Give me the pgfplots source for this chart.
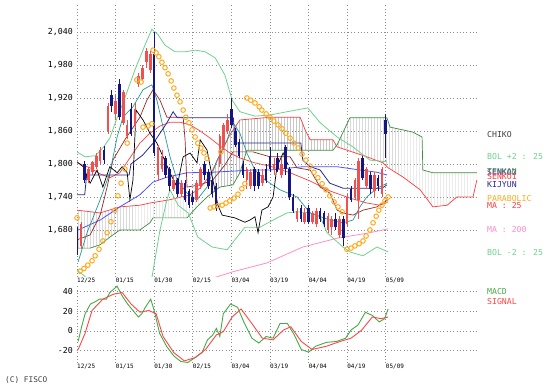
\documentclass[border=0pt]{standalone}
\usepackage{pgfplots}
\pgfplotsset{compat=1.18}
\usetikzlibrary{patterns}
\usepackage{fontspec}
\setmainfont{DejaVu Sans}
\newfontfamily\mono{DejaVu Sans Mono}
\definecolor{bbgreen}{RGB}{110,210,140}
\definecolor{upred}{RGB}{240,80,80}
\definecolor{dnnavy}{RGB}{20,20,130}
\definecolor{ma25}{RGB}{255,60,60}
\definecolor{ma200}{RGB}{255,140,200}
\definecolor{ma75}{RGB}{80,80,255}
\definecolor{kijun}{RGB}{40,40,150}
\definecolor{sen1}{RGB}{255,60,60}
\definecolor{sen2}{RGB}{60,140,60}
\definecolor{tenkan}{RGB}{40,150,150}
\definecolor{brownl}{RGB}{150,40,40}
\definecolor{sar}{RGB}{255,170,30}
\definecolor{macdg}{RGB}{70,170,70}
\definecolor{sigr}{RGB}{255,70,70}
\definecolor{gridc}{RGB}{140,140,140}
\newcommand\fy{\mono\fontsize{8.3}{9}\selectfont}
\newcommand\fx{\mono\fontsize{6}{6}\selectfont}
\newcommand\fl{\mono\fontsize{8.2}{9}\selectfont}
\pgfplotsset{
  panel/.style={
    scale only axis, width=400bp, xmin=0, xmax=103.63,
    axis line style={draw=none}, tick style={draw=none},
    grid=major, grid style={gridc, line width=0.6bp, dash pattern=on 0.7bp off 2.6bp},
    xtick={0,10,20,30,40,50,60,70,80},
    xticklabels={12/25,01/15,01/30,02/15,03/04,03/19,04/04,04/19,05/09},
    xticklabel style={font=\fx, anchor=north west, inner sep=0pt, yshift=-1bp},
    yticklabel style={font=\fy, anchor=east, inner sep=0pt, xshift=-4bp,
      /pgf/number format/1000 sep={,}, /pgf/number format/assume math mode=true},
  },
}
\begin{document}
\begin{tikzpicture}
\begin{axis}[panel, at={(77bp,109.3bp)}, anchor=south west, height=271.7bp,
  ymin=1595, ymax=2089.1, ytick={1680,1740,1800,1860,1920,1980,2040}]
% Ichimoku cloud (senkou span 1 forward, senkou span 2 backward)
\addplot[draw=none, pattern=vertical lines, pattern color=gray!45] coordinates {(0,1716) (6,1711) (11.1,1722) (16.3,1725) (18.9,1729) (24.1,1735) (29.3,1744) (31.9,1756) (34.5,1780) (37,1816) (39.6,1853) (42.2,1880) (50,1885) (57.8,1885) (59.1,1862) (60.4,1844) (66.3,1844) (67.4,1831) (70,1825) (75.1,1813) (79.3,1802) (80.6,1793) (84.5,1776) (88.9,1753) (92.2,1722) (95.9,1725) (98.4,1740) (102.6,1740) (103.6,1771)
(103.6,1784) (92.2,1784) (89.6,1789) (89.4,1849) (87,1858) (81.1,1867) (80.3,1884) (70.7,1884) (67.4,1835) (66.3,1825) (44,1825) (42.2,1784) (40.4,1762) (37,1758) (33.7,1740) (31.1,1722) (28.5,1702) (19.7,1702) (18.9,1693) (16.3,1680) (11.1,1680) (8.5,1667) (6,1653) (3.4,1647) (0,1647)};
\addplot[sen1, line width=0.7bp] coordinates {(0,1716) (6,1711) (11.1,1722) (16.3,1725) (18.9,1729) (24.1,1735) (29.3,1744) (31.9,1756) (34.5,1780) (37,1816) (39.6,1853) (42.2,1880) (50,1885) (57.8,1885) (59.1,1862) (60.4,1844) (66.3,1844) (67.4,1831) (70,1825) (75.1,1813) (79.3,1802) (80.6,1793) (84.5,1776) (88.9,1753) (92.2,1722) (95.9,1725) (98.4,1740) (102.6,1740) (103.6,1771)};
\addplot[sen2, line width=0.7bp] coordinates {(0,1647) (3.4,1647) (6,1653) (8.5,1667) (11.1,1680) (16.3,1680) (18.9,1693) (19.7,1702) (28.5,1702) (31.1,1722) (33.7,1740) (37,1758) (40.4,1762) (42.2,1784) (44,1825) (66.3,1825) (67.4,1835) (70.7,1884) (80.3,1884) (81.1,1867) (87,1858) (89.4,1849) (89.6,1789) (92.2,1784) (103.6,1784)};
% MA200
\addplot[ma200, line width=0.8bp] coordinates {(31.9,1584) (33.7,1589) (40.4,1604) (49.2,1620) (58.5,1649) (67.4,1665) (75.9,1675) (80.6,1682)};
% Bollinger bands
\addplot[bbgreen, line width=0.8bp] coordinates {(0,1822) (2.1,1813) (4.7,1815) (6.7,1829) (8.5,1847) (10.4,1884) (12.4,1920) (15,1971) (17.6,2016) (19.4,2045) (21,2035) (22.8,2016) (25.4,2004) (28,2004) (30.6,2007) (33.2,2004) (35.8,1993) (38.3,1962) (40.2,1916) (42.2,1895) (46.1,1887) (50,1889) (54.4,1895) (59.8,1902) (63,1875) (67.4,1849) (71.5,1831) (75.9,1807) (80.3,1804)};
\addplot[bbgreen, line width=0.8bp] coordinates {(0,1607) (2,1596) (4.7,1571) (11,1553) (17.6,1562) (19.4,1593) (21.5,1680) (23.3,1735) (24.1,1753) (26.2,1725) (28.8,1711) (31.3,1667) (35,1649) (38.9,1644) (40.9,1662) (43.5,1685) (47.4,1685) (50.8,1698) (54.4,1711) (57,1713) (60.4,1711) (63,1704) (64.8,1675) (68.9,1649) (70.7,1640) (74.1,1633) (77.7,1649) (80.6,1640)};
% blue smooth MA
\addplot[ma75, line width=0.8bp] coordinates {(0.3,1680) (6,1698) (11.1,1722) (16.3,1744) (19.7,1767) (23.3,1776) (28.5,1784) (35.2,1785) (40.4,1787) (45.6,1789) (50,1789) (58.5,1795) (67.4,1795) (73.3,1789) (77.7,1785) (80.3,1780)};
% MA25
\addplot[ma25, line width=0.7bp] coordinates {(0,1802) (3.4,1793) (6,1782) (8.5,1775) (11.1,1784) (13.7,1811) (16.3,1838) (18.9,1856) (21.5,1869) (24.1,1876) (26.7,1876) (29.3,1871) (31.9,1860) (34.5,1847) (37,1833) (39.6,1820) (42.2,1811) (46.1,1802) (50,1796) (55.2,1784) (60.4,1769) (65.5,1751) (70.7,1738) (75.1,1729) (78.5,1725) (80.6,1731)};
% brown line
\addplot[brownl, line width=0.7bp] coordinates {(0,1662) (3.4,1671) (6,1707) (7.8,1758) (9.3,1807) (12.4,1844) (16.3,1885) (18.1,1916) (19.7,1935) (21.5,1916) (23.3,1885) (27.5,1885) (28,1844) (28.5,1758) (31.9,1762) (35.2,1771) (38.3,1798) (40.4,1822) (45.6,1822) (50,1813) (55.2,1813) (57,1793) (60.4,1789) (63,1758) (65.5,1747) (67.4,1716) (68.9,1711) (71.5,1707) (74.1,1716) (77.7,1722) (80.6,1735)};
% Tenkan
\addplot[tenkan, line width=0.7bp] coordinates {(0.3,1622) (2.6,1675) (6,1735) (8.5,1784) (10.4,1849) (11.9,1885) (14.5,1904) (17.1,1935) (19.4,1944) (20.7,1916) (22.3,1867) (24.1,1813) (25.9,1771) (28.5,1747) (31.1,1735) (33.7,1758) (36.3,1807) (38.9,1844) (40.4,1875) (42.2,1856) (44,1820) (46.1,1789) (48.7,1771) (52.6,1753) (57,1740) (60.4,1711) (65.5,1698) (68.9,1693) (71.5,1698) (73.3,1722) (75.1,1740) (77.7,1756) (80.3,1765)};
% Kijun
\addplot[kijun, line width=0.8bp] coordinates {(0,1744) (2,1744) (2.5,1780) (13.5,1780) (14,1800) (17,1816) (20,1840) (23.3,1875) (24.9,1895) (26,1884) (40.5,1884) (41,1838) (58,1838) (58.5,1807) (60.4,1795) (63,1789) (65.5,1765) (68.9,1756) (79,1756) (80.3,1762)};
% Chikou
\addplot[black, line width=0.7bp] coordinates {(0,1804) (1.6,1795) (3.4,1765) (5.2,1789) (6.7,1758) (8.5,1795) (10.4,1784) (11.7,1795) (13,1784) (13.7,1735) (14.5,1771) (15.3,1898) (17.1,1880) (18.9,1856) (20.7,1838) (22.3,1813) (24.1,1784) (25.9,1758) (27.5,1813) (29.3,1820) (31.1,1802) (31.9,1844) (33.7,1825) (35.2,1771) (36.5,1725) (37.6,1707) (40.9,1702) (43.5,1694) (44.8,1698) (46.1,1704) (46.9,1675) (47.9,1716) (49.5,1722) (50.8,1740) (51.8,1795) (53.4,1820) (54.7,1798)};
% candles: wicks
\addplot[upred, line width=0.7bp, unbounded coords=jump] coordinates {
(1,1645)(1,1695)(1,nan) (3,1765)(3,1795)(3,nan) (4,1780)(4,1806)(4,nan) (5,1790)(5,1820)(5,nan) (6,1800)(6,1830)(6,nan) (8,1855)(8,1910)(8,nan) (10,1880)(10,1925)(10,nan) (12,1870)(12,1935)(12,nan) (13,1845)(13,1880)(13,nan) (15,1865)(15,1910)(15,nan) (16,1940)(16,1965)(16,nan) (17,1950)(17,1980)(17,nan) (18,1975)(18,2010)(18,nan) (19,1965)(19,2005)(19,nan) (21,1770)(21,1835)(21,nan) (22,1785)(22,1825)(22,nan) (25,1750)(25,1780)(25,nan) (27,1740)(27,1770)(27,nan) (31,1730)(31,1770)(31,nan) (32,1755)(32,1795)(32,nan) (37,1795)(37,1855)(37,nan) (38,1825)(38,1875)(38,nan) (39,1855)(39,1890)(39,nan) (44,1755)(44,1795)(44,nan) (45,1755)(45,1790)(45,nan) (48,1760)(48,1790)(48,nan) (51,1780)(51,1810)(51,nan) (53,1775)(53,1810)(53,nan) (57,1695)(57,1720)(57,nan) (59,1690)(59,1720)(59,nan) (61,1690)(61,1715)(61,nan) (62,1685)(62,1720)(62,nan) (65,1675)(65,1710)(65,nan) (66,1670)(66,1705)(66,nan) (68,1665)(68,1705)(68,nan) (70,1685)(70,1745)(70,nan) (72,1735)(72,1775)(72,nan) (73,1700)(73,1810)(73,nan) (75,1755)(75,1795)(75,nan) (77,1740)(77,1785)(77,nan) (79,1740)(79,1795)};
\addplot[dnnavy, line width=0.7bp, unbounded coords=jump] coordinates {
(0,1635)(0,1685)(0,nan) (2,1765)(2,1805)(2,nan) (7,1800)(7,1832)(7,nan) (9,1895)(9,1935)(9,nan) (11,1880)(11,1955)(11,nan) (14,1850)(14,1910)(14,nan) (20,1815)(20,2040)(20,nan) (23,1775)(23,1815)(23,nan) (24,1750)(24,1795)(24,nan) (26,1740)(26,1775)(26,nan) (28,1730)(28,1770)(28,nan) (29,1720)(29,1755)(29,nan) (30,1725)(30,1750)(30,nan) (33,1770)(33,1805)(33,nan) (34,1755)(34,1790)(34,nan) (35,1740)(35,1775)(35,nan) (36,1715)(36,1765)(36,nan) (40,1865)(40,1920)(40,nan) (41,1830)(41,1865)(41,nan) (42,1810)(42,1845)(42,nan) (43,1775)(43,1805)(43,nan) (46,1750)(46,1795)(46,nan) (47,1755)(47,1790)(47,nan) (49,1765)(49,1800)(49,nan) (50,1785)(50,1830)(50,nan) (52,1785)(52,1820)(52,nan) (54,1780)(54,1835)(54,nan) (55,1735)(55,1795)(55,nan) (56,1710)(56,1745)(56,nan) (58,1695)(58,1725)(58,nan) (60,1690)(60,1725)(60,nan) (63,1695)(63,1720)(63,nan) (64,1685)(64,1715)(64,nan) (67,1680)(67,1710)(67,nan) (69,1650)(69,1705)(69,nan) (71,1730)(71,1760)(71,nan) (74,1770)(74,1815)(74,nan) (76,1745)(76,1785)(76,nan) (78,1750)(78,1780)(78,nan) (80,1810)(80,1890)};
% candles: bodies
\addplot[upred, line width=2.6bp, unbounded coords=jump] coordinates {
(1,1650)(1,1690)(1,nan) (3,1770)(3,1790)(3,nan) (4,1785)(4,1803)(4,nan) (5,1795)(5,1815)(5,nan) (6,1805)(6,1825)(6,nan) (8,1860)(8,1905)(8,nan) (10,1890)(10,1915)(10,nan) (12,1875)(12,1930)(12,nan) (13,1850)(13,1870)(13,nan) (15,1870)(15,1900)(15,nan) (16,1945)(16,1960)(16,nan) (17,1955)(17,1975)(17,nan) (18,1985)(18,2005)(18,nan) (19,1970)(19,2000)(19,nan) (21,1780)(21,1830)(21,nan) (22,1790)(22,1815)(22,nan) (25,1755)(25,1770)(25,nan) (27,1745)(27,1765)(27,nan) (31,1735)(31,1765)(31,nan) (32,1760)(32,1790)(32,nan) (37,1800)(37,1850)(37,nan) (38,1830)(38,1870)(38,nan) (39,1860)(39,1880)(39,nan) (44,1770)(44,1790)(44,nan) (45,1760)(45,1785)(45,nan) (48,1765)(48,1780)(48,nan) (51,1790)(51,1800)(51,nan) (53,1780)(53,1800)(53,nan) (57,1700)(57,1715)(57,nan) (59,1695)(59,1710)(59,nan) (61,1695)(61,1710)(61,nan) (62,1690)(62,1715)(62,nan) (65,1680)(65,1705)(65,nan) (66,1685)(66,1700)(66,nan) (68,1670)(68,1700)(68,nan) (70,1690)(70,1740)(70,nan) (72,1740)(72,1770)(72,nan) (73,1735)(73,1805)(73,nan) (75,1760)(75,1790)(75,nan) (77,1750)(77,1780)(77,nan) (79,1745)(79,1790)};
\addplot[dnnavy, line width=2.6bp, unbounded coords=jump] coordinates {
(0,1675)(0,1645)(0,nan) (2,1800)(2,1770)(2,nan) (7,1825)(7,1808)(7,nan) (9,1925)(9,1905)(9,nan) (11,1945)(11,1885)(11,nan) (14,1900)(14,1855)(14,nan) (20,2000)(20,1820)(20,nan) (23,1810)(23,1780)(23,nan) (24,1790)(24,1760)(24,nan) (26,1770)(26,1745)(26,nan) (28,1765)(28,1735)(28,nan) (29,1750)(29,1725)(29,nan) (30,1740)(30,1730)(30,nan) (33,1800)(33,1780)(33,nan) (34,1785)(34,1760)(34,nan) (35,1770)(35,1745)(35,nan) (36,1760)(36,1720)(36,nan) (40,1900)(40,1870)(40,nan) (41,1860)(41,1835)(41,nan) (42,1840)(42,1815)(42,nan) (43,1800)(43,1780)(43,nan) (46,1790)(46,1760)(46,nan) (47,1785)(47,1760)(47,nan) (49,1790)(49,1770)(49,nan) (50,1815)(50,1790)(50,nan) (52,1810)(52,1790)(52,nan) (54,1830)(54,1790)(54,nan) (55,1790)(55,1740)(55,nan) (56,1740)(56,1715)(56,nan) (58,1720)(58,1700)(58,nan) (60,1720)(60,1695)(60,nan) (63,1715)(63,1700)(63,nan) (64,1710)(64,1690)(64,nan) (67,1700)(67,1685)(67,nan) (69,1700)(69,1665)(69,nan) (71,1755)(71,1735)(71,nan) (74,1810)(74,1775)(74,nan) (76,1780)(76,1755)(76,nan) (78,1775)(78,1760)(78,nan) (80,1880)(80,1855)};
% Parabolic SAR
\addplot[only marks, mark=o, mark size=2.3bp, sar, mark options={line width=1bp}] coordinates {
(0,1702) (0.8,1605) (1.8,1610) (2.8,1616) (3.9,1624) (4.7,1633) (5.7,1645) (6.7,1660) (7.8,1675) (8.8,1695) (9.8,1716) (10.6,1742) (11.4,1765) (12.4,1791) (13,1838) (15.5,1953) (16.6,1949) (17.1,1867) (18.4,1869) (19.4,1873)
(19.7,2007) (20.5,2002) (21.2,1995) (22,1985) (22.8,1975) (23.6,1964) (24.4,1951) (25.1,1938) (25.9,1925) (26.7,1913) (27.5,1898) (28.2,1885) (29,1875) (29.8,1862) (30.6,1849) (31.3,1838) (32.1,1829) (32.9,1820) (33.7,1810) (37.3,1822)
(34.5,1720) (35.5,1722) (36.5,1724) (37.6,1725) (38.6,1729) (39.6,1733) (40.7,1738) (41.7,1745) (42.7,1755) (43.5,1764)
(44,1920) (45,1916) (46.1,1911) (47.2,1904) (47.9,1898) (49,1891) (50,1885) (51,1878) (52.1,1871) (53.1,1864) (54.1,1856) (55.2,1847) (56.2,1838) (57.3,1829) (58.3,1818) (59.3,1807) (60.4,1796) (61.4,1785) (62.4,1775) (63.5,1764) (64.5,1753) (65.5,1742) (66.6,1731) (67.6,1722) (68.7,1713)
(69.9,1645) (71,1647) (72,1651) (73.1,1655) (74.1,1660) (74.9,1669) (75.9,1680) (76.7,1693) (77.5,1705) (78.2,1716) (79,1725) (79.8,1733) (80.6,1740)};
\end{axis}
\begin{axis}[panel, at={(77bp,23bp)}, anchor=south west, height=79bp,
  ymin=-32.5, ymax=47.7, ytick={-20,0,20,40}]
\addplot[macdg, line width=0.9bp] coordinates {(0.3,-10.6) (1.2,4.3) (2.1,17.5) (3.5,27.4) (4.9,30) (5.8,32.3) (7.6,32.3) (8.5,39) (10.4,45.5) (11.7,35.6) (13.1,27.4) (14.5,20.8) (15.9,14.2) (16.8,17.5) (17.7,24) (19.1,32.3) (20,20.8) (21.4,-2.3) (23.2,-15.5) (25.1,-25.4) (26.9,-31) (28.7,-32) (30.6,-27) (32.4,-22) (33.8,-9) (35.2,-4) (36.1,2.6) (37,-5.6) (37.9,17.5) (39.8,27.4) (41.6,24) (43.4,7.6) (45.3,-7.3) (47.1,-12.2) (49,-5.6) (50.8,-7.3) (52.6,7.6) (54.5,7.6) (56.3,-4) (58.1,-18.8) (60,-21.5) (61.8,-15.5) (64.6,-11.6) (67.3,-10.6) (69.6,-7.3) (71,1) (72.8,6) (74.7,19) (76.5,15.8) (78.3,9.2) (79.7,12.5) (80.6,22.4)};
\addplot[sigr, line width=0.9bp] coordinates {(0.3,-18.8) (2.1,-2.3) (3.9,20.8) (6.7,32.3) (9.4,37.3) (11.7,39) (14,27.4) (16.3,19.1) (18.6,20.8) (20.5,17.5) (22.3,-5.6) (25.1,-22) (27.8,-30.4) (30.6,-27) (33.3,-18.8) (36.1,-4) (37.9,-0.7) (40.2,14.2) (42.5,22.4) (45.3,7.6) (48,-7.3) (50.8,-9) (53.5,1) (55.4,4.3) (58.1,-10.6) (60.9,-18.8) (64.6,-15.5) (68.2,-10.6) (71,-7.3) (73.8,1) (76.5,14.2) (78.8,12.5) (80.6,14.2)};
\end{axis}
% legend texts
\node[anchor=west, inner sep=0pt, text=black!75, font=\fl] at (487bp,251bp) {CHIKO};
\node[anchor=west, inner sep=0pt, text=bbgreen, font=\fl] at (487bp,229bp) {BOL +2 : 25};
\node[anchor=west, inner sep=0pt, text=sen2, font=\fl] at (487bp,214bp) {TENKAN};
\node[anchor=west, inner sep=0pt, text=kijun!80, font=\fl] at (487bp,213bp) {SENKO2};
\node[anchor=west, inner sep=0pt, text=sen1, font=\fl] at (487bp,209bp) {SENKO1};
\node[anchor=west, inner sep=0pt, text=kijun, font=\fl] at (487bp,201bp) {KIJYUN};
\node[anchor=west, inner sep=0pt, text=sar, font=\fl] at (487bp,187bp) {PARABOLIC};
\node[anchor=west, inner sep=0pt, text=ma25, font=\fl] at (487bp,180bp) {MA : 25};
\node[anchor=west, inner sep=0pt, text=ma200, font=\fl] at (487bp,156bp) {MA : 200};
\node[anchor=west, inner sep=0pt, text=bbgreen, font=\fl] at (487bp,133bp) {BOL -2 : 25};
\node[anchor=west, inner sep=0pt, text=macdg, font=\fl] at (487bp,94bp) {MACD};
\node[anchor=west, inner sep=0pt, text=sigr, font=\fl] at (487bp,84bp) {SIGNAL};
\node[anchor=west, inner sep=0pt, text=black!75, font=\mono\fontsize{7.8}{8}\selectfont] at (5bp,6bp) {(C) FISCO};
\path (0,0) (553bp,386bp);
\end{tikzpicture}
\end{document}
